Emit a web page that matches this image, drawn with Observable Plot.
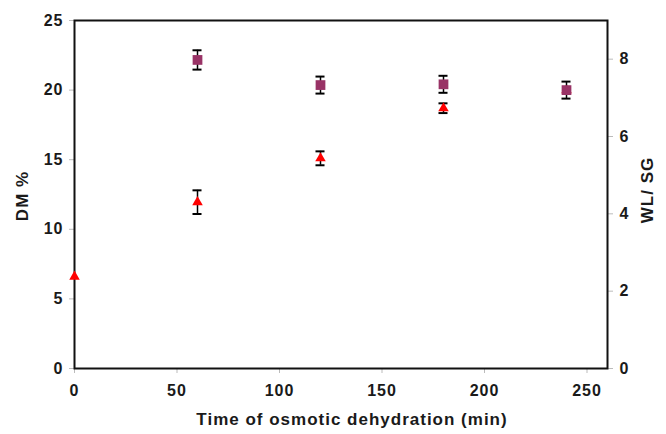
<!DOCTYPE html>
<html>
<head>
<meta charset="utf-8">
<script src="https://cdn.jsdelivr.net/npm/d3@7"></script>
<script src="https://cdn.jsdelivr.net/npm/@observablehq/plot@0.6"></script>
<style>
  html, body { margin: 0; padding: 0; background: #fff; }
  #chart svg { display: block; font-family: "Liberation Sans", Arial, sans-serif; }
</style>
</head>
<body>
<div id="chart"></div>
<script>
// Sampling times (min)
const times = [0, 60, 120, 180, 240];
// Dry matter content, DM % (left axis)
const dm = [6.6, 11.95, 15.1, 18.7, 20.0];
const dmErr = [0, 0.85, 0.5, 0.35, 0];
// Water loss / solid gain ratio (right axis), not measured at t = 0
const wlsgTimes = [60, 120, 180, 240];
const wlsg = [7.98, 7.33, 7.35, 7.2];
const wlsgErr = [0.25, 0.22, 0.22, 0.22];

const dmMax = 25, wlsgMax = 9;
const k = dmMax / wlsgMax; // maps WL/SG onto the DM % scale

const dmData = times.map((t, i) => ({t, v: dm[i], e: dmErr[i]}));
const wlData = wlsgTimes.map((t, i) => ({t, v: wlsg[i] * k, e: wlsgErr[i] * k}));
const capHalf = 2.2; // half-width of error-bar caps, in minutes

const errMarks = (data) => [
  Plot.ruleX(data.filter(d => d.e > 0), {x: "t", y1: d => d.v - d.e, y2: d => d.v + d.e, stroke: "#000", strokeWidth: 1.5}),
  Plot.ruleY(data.filter(d => d.e > 0), {y: d => d.v - d.e, x1: d => d.t - capHalf, x2: d => d.t + capHalf, stroke: "#000", strokeWidth: 2}),
  Plot.ruleY(data.filter(d => d.e > 0), {y: d => d.v + d.e, x1: d => d.t - capHalf, x2: d => d.t + capHalf, stroke: "#000", strokeWidth: 2})
];

const axisStyle = {tickSize: 5, stroke: "#bbb", fill: "#1a1a1a", fontSize: 16, label: null};

const chart = Plot.plot({
  width: 666,
  height: 434,
  marginLeft: 74,
  marginRight: 59,
  marginTop: 20,
  marginBottom: 66,
  style: {fontSize: "16px", fontWeight: "bold", color: "#1a1a1a", letterSpacing: "1px"},
  x: {domain: [0, 260]},
  y: {domain: [0, dmMax]},
  marks: [
    Plot.axisX({...axisStyle, ticks: [0, 50, 100, 150, 200, 250], tickPadding: 11}),
    Plot.axisY({...axisStyle, ticks: [0, 5, 10, 15, 20, 25], tickPadding: 6}),
    Plot.axisY({...axisStyle, anchor: "right", ticks: [0, 2, 4, 6, 8].map(v => v * k), tickFormat: d => Math.round(d / k), tickPadding: 7}),
    Plot.frame({stroke: "#111", strokeWidth: 2}),
    ...errMarks(dmData),
    Plot.dot(dmData, {x: "t", y: "v", symbol: "triangle", r: 3.9, fill: "#ff0000", stroke: null}),
    ...errMarks(wlData),
    Plot.dot(wlData, {x: "t", y: "v", symbol: "square", r: 5.5, fill: "#993366", stroke: null})
  ]
});

// Axis titles
const svg = d3.select(chart);
const title = (sel) => sel
  .attr("text-anchor", "middle")
  .attr("font-size", 17).attr("font-weight", "bold").attr("fill", "#1a1a1a");
svg.append("text").call(title)
  .attr("x", 352).attr("y", 425)
  .text("Time of osmotic dehydration (min)");
svg.append("text").call(title)
  .attr("transform", "translate(28,196) rotate(-90)")
  .text("DM %");
svg.append("text").call(title)
  .attr("transform", "translate(653,190) rotate(-90)")
  .text("WL/ SG");

document.getElementById("chart").append(chart);
</script>
</body>
</html>
